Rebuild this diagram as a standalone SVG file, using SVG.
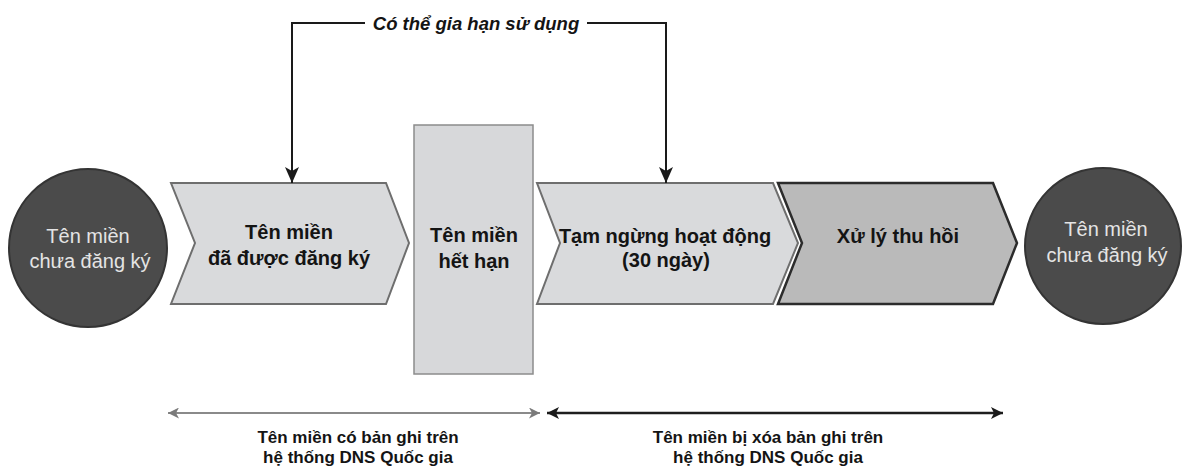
<svg xmlns="http://www.w3.org/2000/svg" width="1183" height="471" viewBox="0 0 1183 471">
  <style>
    text { font-family: "Liberation Sans", Arial, sans-serif; text-anchor: middle; }
    .lbl { font-size: 20px; font-weight: bold; fill: #141414; }
    .circ-txt { font-size: 20px; fill: #e4e4e4; }
    .circle { fill: #4b4b4b; stroke: #343434; stroke-width: 2; }
    .chev { fill: #d9dadc; stroke: #6e6e6e; stroke-width: 2; stroke-linejoin: miter; }
    .chev-dark { fill: #bababa; stroke: #2c2c2c; stroke-width: 2.5; stroke-linejoin: miter; }
    .rect { fill: #d7d8da; stroke: #8c8c8c; stroke-width: 1.5; }
    .conn { fill: none; stroke: #1a1a1a; stroke-width: 2; }
    .span-grey { fill: none; stroke: #8a8a8a; stroke-width: 2; }
    .span-dark { fill: none; stroke: #1e1e1e; stroke-width: 2.5; }
    .top-lbl { font-size: 18.5px; font-weight: bold; font-style: italic; fill: #141414; }
    .bot-lbl { font-size: 17px; font-weight: bold; fill: #141414; }
  </style>
  <defs>
    <marker id="arrowDown" viewBox="0 0 16 14" refX="16" refY="7" markerWidth="16" markerHeight="14" markerUnits="userSpaceOnUse" orient="auto">
      <path d="M0,0 L16,7 L0,14 L4,7 z" fill="#1a1a1a"/>
    </marker>
    <marker id="arrowGrey" viewBox="0 0 11 11" refX="11" refY="5.5" markerWidth="11" markerHeight="11" markerUnits="userSpaceOnUse" orient="auto-start-reverse">
      <path d="M0,0 L11,5.5 L0,11 L3,5.5 z" fill="#7a7a7a"/>
    </marker>
    <marker id="arrowDark" viewBox="0 0 12 12" refX="12" refY="6" markerWidth="12" markerHeight="12" markerUnits="userSpaceOnUse" orient="auto-start-reverse">
      <path d="M0,0 L12,6 L0,12 L3,6 z" fill="#1a1a1a"/>
    </marker>
  </defs>

  <rect width="1183" height="471" fill="#ffffff"/>

  <g id="node-unregistered-left">
    <circle class="circle" cx="88" cy="248" r="79"/>
    <text class="circ-txt" x="88" y="243">Tên miền</text>
    <text class="circ-txt" x="90" y="268">chưa đăng ký</text>
  </g>

  <g id="node-registered">
    <polygon class="chev" points="171,183 386,183 409,243 386,304 171,304 195,243"/>
    <text class="lbl" x="289" y="239">Tên miền</text>
    <text class="lbl" x="289" y="265">đã được đăng ký</text>
  </g>

  <g id="node-expired">
    <rect class="rect" x="414" y="125" width="119" height="249"/>
    <text class="lbl" x="474" y="242">Tên miền</text>
    <text class="lbl" x="474" y="268">hết hạn</text>
  </g>

  <g id="node-suspended">
    <polygon class="chev" points="537,183 773,183 798,243 773,304 537,304 560,243"/>
    <text class="lbl" x="665" y="243">Tạm ngừng hoạt động</text>
    <text class="lbl" x="666" y="267">(30 ngày)</text>
  </g>

  <g id="node-revoke">
    <polygon class="chev-dark" points="778,183 993,183 1017,243 993,304 778,304 802,243"/>
    <text class="lbl" x="898" y="243">Xử lý thu hồi</text>
  </g>

  <g id="node-unregistered-right">
    <circle class="circle" cx="1103" cy="246" r="78"/>
    <text class="circ-txt" x="1106" y="236">Tên miền</text>
    <text class="circ-txt" x="1107" y="262">chưa đăng ký</text>
  </g>

  <g id="connectors">
    <path class="conn" d="M365,23 H292 V183" marker-end="url(#arrowDown)"/>
    <path class="conn" d="M587,23 H666 V183" marker-end="url(#arrowDown)"/>
    <text class="top-lbl" x="476" y="30">Có thể gia hạn sử dụng</text>
    <path class="span-grey" d="M168,413 H540" marker-start="url(#arrowGrey)" marker-end="url(#arrowGrey)"/>
    <path class="span-dark" d="M547,413 H1003" marker-start="url(#arrowDark)" marker-end="url(#arrowDark)"/>
  </g>

  <g id="span-labels">
    <text class="bot-lbl" x="358" y="443">Tên miền có bản ghi trên</text>
    <text class="bot-lbl" x="358" y="463">hệ thống DNS Quốc gia</text>
    <text class="bot-lbl" x="768" y="443">Tên miền bị xóa bản ghi trên</text>
    <text class="bot-lbl" x="768" y="463">hệ thống DNS Quốc gia</text>
  </g>
</svg>
